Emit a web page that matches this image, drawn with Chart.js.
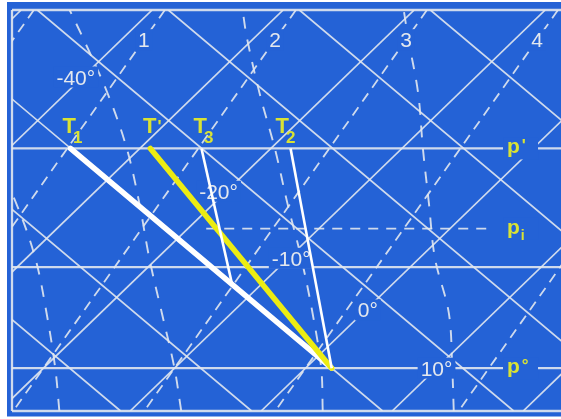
<!DOCTYPE html>
<html>
<head>
<meta charset="utf-8">
<style>
  html, body { margin: 0; padding: 0; background: #ffffff; }
  canvas { display: block; }
</style>
<script src="https://cdn.jsdelivr.net/npm/chart.js@4.4.1/dist/chart.umd.min.js"></script>
</head>
<body>
<canvas id="diagram" width="561" height="419"></canvas>
<script>
// Thermodynamic diagram (tephigram-style): x = temperature skewed to the 1000 hPa level, y = pressure.

// Frame of the diagram
const P_TOP = 674;          // hPa
const P_BOTTOM = 1039;      // hPa
const X_MIN = -22.4;        // skewed temperature at the left border, °C
const X_MAX = 19.5;         // skewed temperature at the right border, °C

// Isobars (hPa)
const isobars = [674, 800, 908, 1000, 1039];
const P_PRIME = 800;        // p'
const P_I = 873;            // p_i
const P_ZERO = 1000;        // p°

// Isotherms (°C), dry adiabats (θ at 1000 hPa, °C), mixing-ratio lines (dew point at 1000 hPa, °C)
const isotherms = [-50, -40, -30, -20, -10, 0, 10, 20];
const dryAdiabats = [-18, -8, 2, 12, 22, 32, 42, 52];
const mixingLines = [-40, -30, -20, -10, 0, 14];
const mixingLabels = ['', '1', '2', '3', '4', ''];

// Saturated adiabats: temperature (°C) at each pressure level
const moistLevels = [1039, 1000, 950, 900, 850, 800, 750, 700, 674];
const moistA = [-15.4, -19.1, -24.1, -29.3, -35.1, -41.4];
const moistB = [-6.1, -10.0, -15.3, -20.6, -25.7, -31.0, -36.8, -43.0, -46.3];
const moistC = [4.7, 1.2, -3.8, -9.0, -14.4, -19.7, -25.2, -30.5, -33.1];
const moistD = [14.7, 11.2, 6.6, 1.2, -3.6, -8.4, -13.1, -18.2, -20.8];

// Parcel states (°C)
const T_SURFACE = 2;        // at p°
const T1 = -35.3;           // dry-adiabatic ascent to p'
const T_PRIME = -29.2;
const T3 = -25.3;
const T2 = -18.5;
const T3_END = { t: -12.3, p: 923 };
const piSpan = [-18.6, 3.3]; // temperatures along the p_i dashed isobar

// Isotherm labels: temperature and the pressure where the label sits
const isothermLabels = [
  { t: -40, p: 735, text: '-40°' },
  { t: -20, p: 839, text: '-20°' },
  { t: -10, p: 900, text: '-10°' },
  { t: 0,   p: 947, text: '0°' },
  { t: 10,  p: 1000, text: '10°' }
];
const MIXING_LABEL_P = 701;

// Small horizontal text nudges (px), keyed by label text
const textNudge = { '-40°': -7, '-20°': -8, '-10°': 3, '0°': 2, 'T2': -7 };

// Projection of (T, p) onto the skewed x axis
const ISO_SKEW = 0.0868;        // °C of x shift per hPa for an isotherm
const DRY_LAPSE = 0.1864;       // °C per hPa along a dry adiabat
const MIX_LAPSE = 0.0277;       // °C per hPa along a mixing-ratio line
const xOf = (t, p) => t + ISO_SKEW * (1000 - p);
const tAdiabat = (theta, p) => theta - DRY_LAPSE * (1000 - p);
const tMixing = (td, p) => td - MIX_LAPSE * (1000 - p);

const BG = '#2462d6';
const GRID = 'rgba(226,232,240,0.9)';
const YELLOW_TEXT = '#d9e234';
const LABEL_TEXT = '#e4e8ee';
const FONT = '"Liberation Sans", Arial, sans-serif';

function tp(points) { return points.map(([t, p]) => ({ x: xOf(t, p), y: p })); }

function lineSet(data, extra) {
  return Object.assign({
    data: data,
    showLine: true,
    pointRadius: 0,
    pointHoverRadius: 0,
    borderWidth: 1.7,
    borderColor: GRID,
    backgroundColor: 'transparent',
    fill: false,
    tension: 0,
    clip: 0,
    order: 10
  }, extra || {});
}

const datasets = [];

// Isotherms
isotherms.forEach(t => datasets.push(lineSet(tp([[t, P_TOP], [t, P_BOTTOM]]))));
// Dry adiabats
dryAdiabats.forEach(th => datasets.push(lineSet(tp([[tAdiabat(th, P_TOP), P_TOP], [tAdiabat(th, P_BOTTOM), P_BOTTOM]]))));
// Mixing-ratio lines
mixingLines.forEach(td => datasets.push(lineSet(tp([[tMixing(td, P_TOP), P_TOP], [tMixing(td, P_BOTTOM), P_BOTTOM]]),
  { borderDash: [10, 7], borderWidth: 1.8, order: 9 })));
// Saturated adiabats
[moistA, moistB, moistC, moistD].forEach(temps => datasets.push(lineSet(
  tp(temps.map((t, i) => [t, moistLevels[i]])),
  { borderDash: [12, 11], borderWidth: 1.9, tension: 0.35, order: 9 })));
// Isobars and left border
isobars.forEach(p => datasets.push(lineSet([{ x: X_MIN, y: p }, { x: X_MAX, y: p }],
  { borderWidth: 2.3, clip: 2, order: 8 })));
datasets.push(lineSet([{ x: X_MIN, y: P_TOP }, { x: X_MIN, y: P_BOTTOM }], { borderWidth: 2.3, clip: 2, order: 8 }));
// p_i dashed isobar
datasets.push(lineSet(tp([[piSpan[0], P_I], [piSpan[1], P_I]]), { borderDash: [10, 8], borderWidth: 1.9, order: 8 }));

// Parcel paths
datasets.push(lineSet(tp([[T1, P_PRIME], [T_SURFACE, P_ZERO]]),
  { borderColor: '#ffffff', borderWidth: 5.5, order: 4, labelsUnder: true, borderCapStyle: 'round' }));
datasets.push(lineSet(tp([[T_PRIME, P_PRIME], [T_SURFACE, P_ZERO]]),
  { borderColor: '#ecec12', borderWidth: 5.5, order: 3, borderCapStyle: 'round' }));
datasets.push(lineSet(tp([[T3, P_PRIME], [T3_END.t, T3_END.p]]),
  { borderColor: '#ffffff', borderWidth: 2.6, order: 2 }));
datasets.push(lineSet(tp([[T2, P_PRIME], [T_SURFACE, P_ZERO]]),
  { borderColor: '#ffffff', borderWidth: 2.6, order: 1 }));

// Point labels at p'
const pointLabels = [
  { main: 'T', sub: '1', t: T1 },
  { main: 'T', sup: "'", t: T_PRIME },
  { main: 'T', sub: '3', t: T3 },
  { main: 'T', sub: '2', t: T2 }
];
// Level labels at the right
const LEVEL_LABEL_T = 15.38; // skewed x where the level names start
const levelLabels = [
  { main: 'p', sup: "'", p: P_PRIME },
  { main: 'p', sub: 'i', p: P_I },
  { main: 'p', sup: '°', p: P_ZERO }
];

const backgroundPlugin = {
  id: 'diagramBackground',
  beforeDraw(chart) {
    const { ctx, chartArea: a, width, height } = chart;
    ctx.save();
    ctx.fillStyle = '#ffffff';
    ctx.fillRect(0, 0, width, height);
    ctx.fillStyle = BG;
    ctx.fillRect(a.left - 5, a.top - 8, a.right - a.left + 5, a.bottom - a.top + 13.5);
    ctx.restore();
  }
};

function knockText(ctx, text, x, y, size, color) {
  x += textNudge[text] || 0;
  ctx.font = size + 'px ' + FONT;
  const w = ctx.measureText(text).width;
  ctx.fillStyle = BG;
  ctx.fillRect(x - w / 2 - 3, y - size * 0.5, w + 6, size * 1.0);
  ctx.fillStyle = color;
  ctx.textAlign = 'center';
  ctx.textBaseline = 'alphabetic';
  ctx.fillText(text, x, y + size * 0.36);
}

const labelPlugin = {
  id: 'diagramLabels',
  beforeDatasetDraw(chart, args) {
    if (!chart.data.datasets[args.index].labelsUnder) return;
    const { ctx, scales: { x: xs, y: ys } } = chart;
    ctx.save();
    isothermLabels.forEach(l => {
      knockText(ctx, l.text, xs.getPixelForValue(xOf(l.t, l.p)), ys.getPixelForValue(l.p), 21, LABEL_TEXT);
    });
    mixingLines.forEach((td, i) => {
      if (!mixingLabels[i]) return;
      const p = MIXING_LABEL_P;
      knockText(ctx, mixingLabels[i], xs.getPixelForValue(xOf(tMixing(td, p), p)), ys.getPixelForValue(p), 21, LABEL_TEXT);
    });
    ctx.restore();
  },
  afterDatasetsDraw(chart) {
    const { ctx, scales: { x: xs, y: ys } } = chart;
    ctx.save();
    ctx.fillStyle = YELLOW_TEXT;
    ctx.textAlign = 'left';
    ctx.textBaseline = 'alphabetic';

    // T labels above p'
    const yp = ys.getPixelForValue(P_PRIME);
    pointLabels.forEach(l => {
      ctx.font = 'bold 22px ' + FONT;
      const wMain = ctx.measureText(l.main).width;
      ctx.font = 'bold 17px ' + FONT;
      const extra = l.sub || l.sup;
      const wExtra = ctx.measureText(extra).width;
      const gap = l.sub ? -3 : 1;
      const total = wMain + wExtra + gap;
      const cx = xs.getPixelForValue(xOf(l.t, P_PRIME)) + 2 + (textNudge[l.main + extra] || 0);
      const x0 = cx - total / 2;
      ctx.font = 'bold 22px ' + FONT;
      ctx.fillText(l.main, x0, yp - 15);
      ctx.font = 'bold 17px ' + FONT;
      ctx.fillText(extra, x0 + wMain + gap, l.sub ? yp - 5 : yp - 16);
    });

    // Level names on the right
    levelLabels.forEach(l => {
      const y = ys.getPixelForValue(l.p);
      const x0 = xs.getPixelForValue(LEVEL_LABEL_T);
      ctx.fillStyle = BG;
      ctx.fillRect(x0 - 4, y - 11, 35, 22);
      ctx.fillStyle = YELLOW_TEXT;
      ctx.font = 'bold 21px ' + FONT;
      ctx.fillText(l.main, x0, y + 5);
      const w = ctx.measureText(l.main).width;
      if (l.sub) {
        ctx.font = 'bold 14px ' + FONT;
        ctx.fillText(l.sub, x0 + w + 1, y + 11);
      } else {
        ctx.font = 'bold 17px ' + FONT;
        ctx.fillText(l.sup, x0 + w + 2, y + 3);
      }
    });
    ctx.restore();
  }
};

new Chart(document.getElementById('diagram').getContext('2d'), {
  type: 'scatter',
  data: { datasets },
  options: {
    responsive: false,
    animation: false,
    devicePixelRatio: 1,
    events: [],
    layout: { padding: { left: 12, top: 10, right: 0, bottom: 8 } },
    scales: {
      x: { type: 'linear', min: X_MIN, max: X_MAX, display: false },
      y: { type: 'linear', min: P_TOP, max: P_BOTTOM, reverse: true, display: false }
    },
    plugins: { legend: { display: false }, tooltip: { enabled: false } }
  },
  plugins: [backgroundPlugin, labelPlugin]
});
</script>
</body>
</html>
